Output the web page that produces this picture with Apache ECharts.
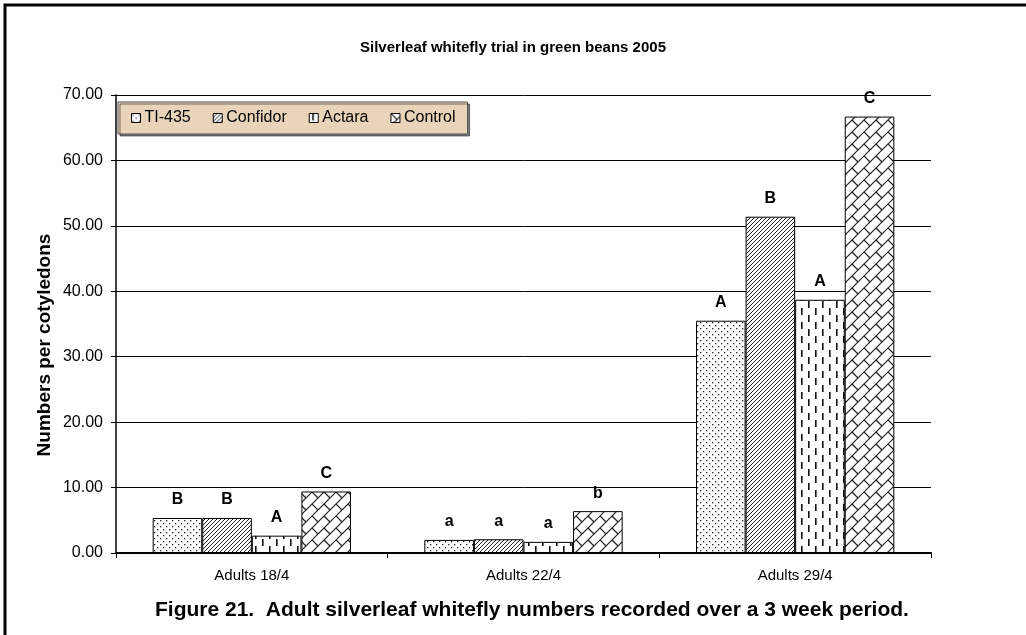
<!DOCTYPE html>
<html>
<head>
<meta charset="utf-8">
<script src="https://cdn.jsdelivr.net/npm/echarts@6/dist/echarts.min.js"></script>
<style>
  html, body { margin: 0; padding: 0; background: #fff; }
  #chart { width: 1026px; height: 635px; }
</style>
</head>
<body>
<div id="chart"></div>
<script>
// data
const categories = ['Adults 18/4', 'Adults 22/4', 'Adults 29/4'];
const ti435 = [5.35, 2.0, 35.5];
const confidor = [5.35, 2.1, 51.4];
const actara = [2.65, 1.7, 38.7];
const control = [9.4, 6.4, 66.7];
const ti435Letters = ['B', 'a', 'A'];
const confidorLetters = ['B', 'a', 'B'];
const actaraLetters = ['A', 'a', 'A'];
const controlLetters = ['C', 'b', 'C'];
const yTicks = [0, 10, 20, 30, 40, 50, 60, 70];

const FONT = 'Liberation Sans, Arial, sans-serif';

// fill patterns (black on white, like the old excel print)
function tile(w, h, draw) {
  const c = document.createElement('canvas');
  c.width = w; c.height = h;
  const ctx = c.getContext('2d');
  ctx.fillStyle = '#fff';
  ctx.fillRect(0, 0, w, h);
  draw(ctx);
  return { image: c, repeat: 'repeat' };
}

const dotFill = tile(6, 6, ctx => {
  ctx.fillStyle = '#222';
  ctx.fillRect(1, 1, 1.3, 1.3);
  ctx.fillRect(4, 4, 1.3, 1.3);
});

const hatchFill = tile(4, 4, ctx => {
  ctx.strokeStyle = '#222';
  ctx.lineWidth = 1;
  for (let s = -4; s <= 8; s += 4) {
    ctx.beginPath();
    ctx.moveTo(s - 1, 5);
    ctx.lineTo(s + 5, -1);
    ctx.stroke();
  }
});

const dashFill = tile(14, 14, ctx => {
  ctx.fillStyle = '#111';
  ctx.fillRect(3, 0, 1.6, 7);
  ctx.fillRect(10, 7, 1.6, 7);
});

const brickFill = tile(24, 24, ctx => {
  ctx.strokeStyle = '#222';
  ctx.lineWidth = 1.2;
  for (let s = -24; s <= 72; s += 12) {
    ctx.beginPath();
    ctx.moveTo(s + 4, -4);
    ctx.lineTo(-4, s + 4);
    ctx.stroke();
  }
  for (let k = -2; k <= 5; k++) {
    const s0 = 12 * k;
    for (let d = 12 * k - 96; d <= 96; d += 24) {
      ctx.beginPath();
      ctx.moveTo((s0 + d) / 2, (s0 - d) / 2);
      ctx.lineTo((s0 + 12 + d) / 2, (s0 + 12 - d) / 2);
      ctx.stroke();
    }
  }
});

function barSeries(name, data, letters, fill) {
  return {
    name: name,
    type: 'bar',
    data: data,
    barGap: '0%',
    barCategoryGap: '27%',
    itemStyle: { color: fill, borderColor: '#000', borderWidth: 1 },
    label: {
      show: true,
      position: 'top',
      distance: 10,
      formatter: p => letters[p.dataIndex],
      fontFamily: FONT,
      fontWeight: 'bold',
      fontSize: 16,
      color: '#000'
    }
  };
}

const chart = echarts.init(document.getElementById('chart'));
chart.setOption({
  backgroundColor: '#fff',
  animation: false,
  title: {
    text: 'Silverleaf whitefly trial in green beans 2005',
    left: 'center',
    top: 35,
    textStyle: { fontFamily: FONT, fontSize: 15, fontWeight: 'bold', color: '#000' }
  },
  legend: {
    left: 118,
    top: 102,
    padding: [8, 12, 8, 13],
    itemWidth: 9,
    itemHeight: 9,
    itemGap: 22,
    icon: 'rect',
    selectedMode: false,
    backgroundColor: '#e9d4ba',
    borderColor: '#555',
    borderWidth: 1,
    shadowColor: 'rgba(0,0,0,0.5)',
    shadowOffsetX: 2,
    shadowOffsetY: 2,
    itemStyle: { borderColor: '#000', borderWidth: 1 },
    textStyle: { fontFamily: FONT, fontSize: 16, color: '#000', padding: [0, 0, 0, -1] },
    data: ['TI-435', 'Confidor', 'Actara', 'Control']
  },
  grid: { left: 116, right: 95, top: 95, bottom: 82 },
  xAxis: {
    type: 'category',
    data: categories,
    axisLine: { lineStyle: { color: '#000', width: 2 } },
    axisTick: { show: true, length: 5, lineStyle: { color: '#000' } },
    axisLabel: { margin: 15, fontFamily: FONT, fontSize: 15, color: '#000' }
  },
  yAxis: {
    type: 'value',
    min: yTicks[0],
    max: yTicks[yTicks.length - 1],
    interval: 10,
    axisLine: { show: true, lineStyle: { color: '#000', width: 1.5 } },
    axisTick: { show: true, length: 5, lineStyle: { color: '#000' } },
    axisLabel: {
      margin: 13,
      fontFamily: FONT,
      fontSize: 16,
      color: '#000',
      formatter: v => v.toFixed(2)
    },
    splitLine: { show: true, lineStyle: { color: '#000', width: 1 } }
  },
  series: [
    barSeries('TI-435', ti435, ti435Letters, dotFill),
    barSeries('Confidor', confidor, confidorLetters, hatchFill),
    barSeries('Actara', actara, actaraLetters, dashFill),
    barSeries('Control', control, controlLetters, brickFill)
  ],
  graphic: [
    {
      type: 'rect',
      shape: { x: 5, y: 5, width: 1040, height: 660 },
      style: { fill: 'none', stroke: '#000', lineWidth: 3 },
      silent: true
    },
    {
      type: 'text',
      x: 45,
      y: 345,
      rotation: Math.PI / 2,
      style: {
        text: 'Numbers per cotyledons',
        fontFamily: FONT,
        fontSize: 19,
        fontWeight: 'bold',
        fill: '#000',
        align: 'center',
        verticalAlign: 'middle'
      }
    },
    {
      type: 'text',
      left: 155,
      top: 600,
      style: {
        text: 'Figure 21.  Adult silverleaf whitefly numbers recorded over a 3 week period.',
        fontFamily: FONT,
        fontSize: 21,
        fontWeight: 'bold',
        fill: '#000'
      }
    }
  ]
});
</script>
</body>
</html>
